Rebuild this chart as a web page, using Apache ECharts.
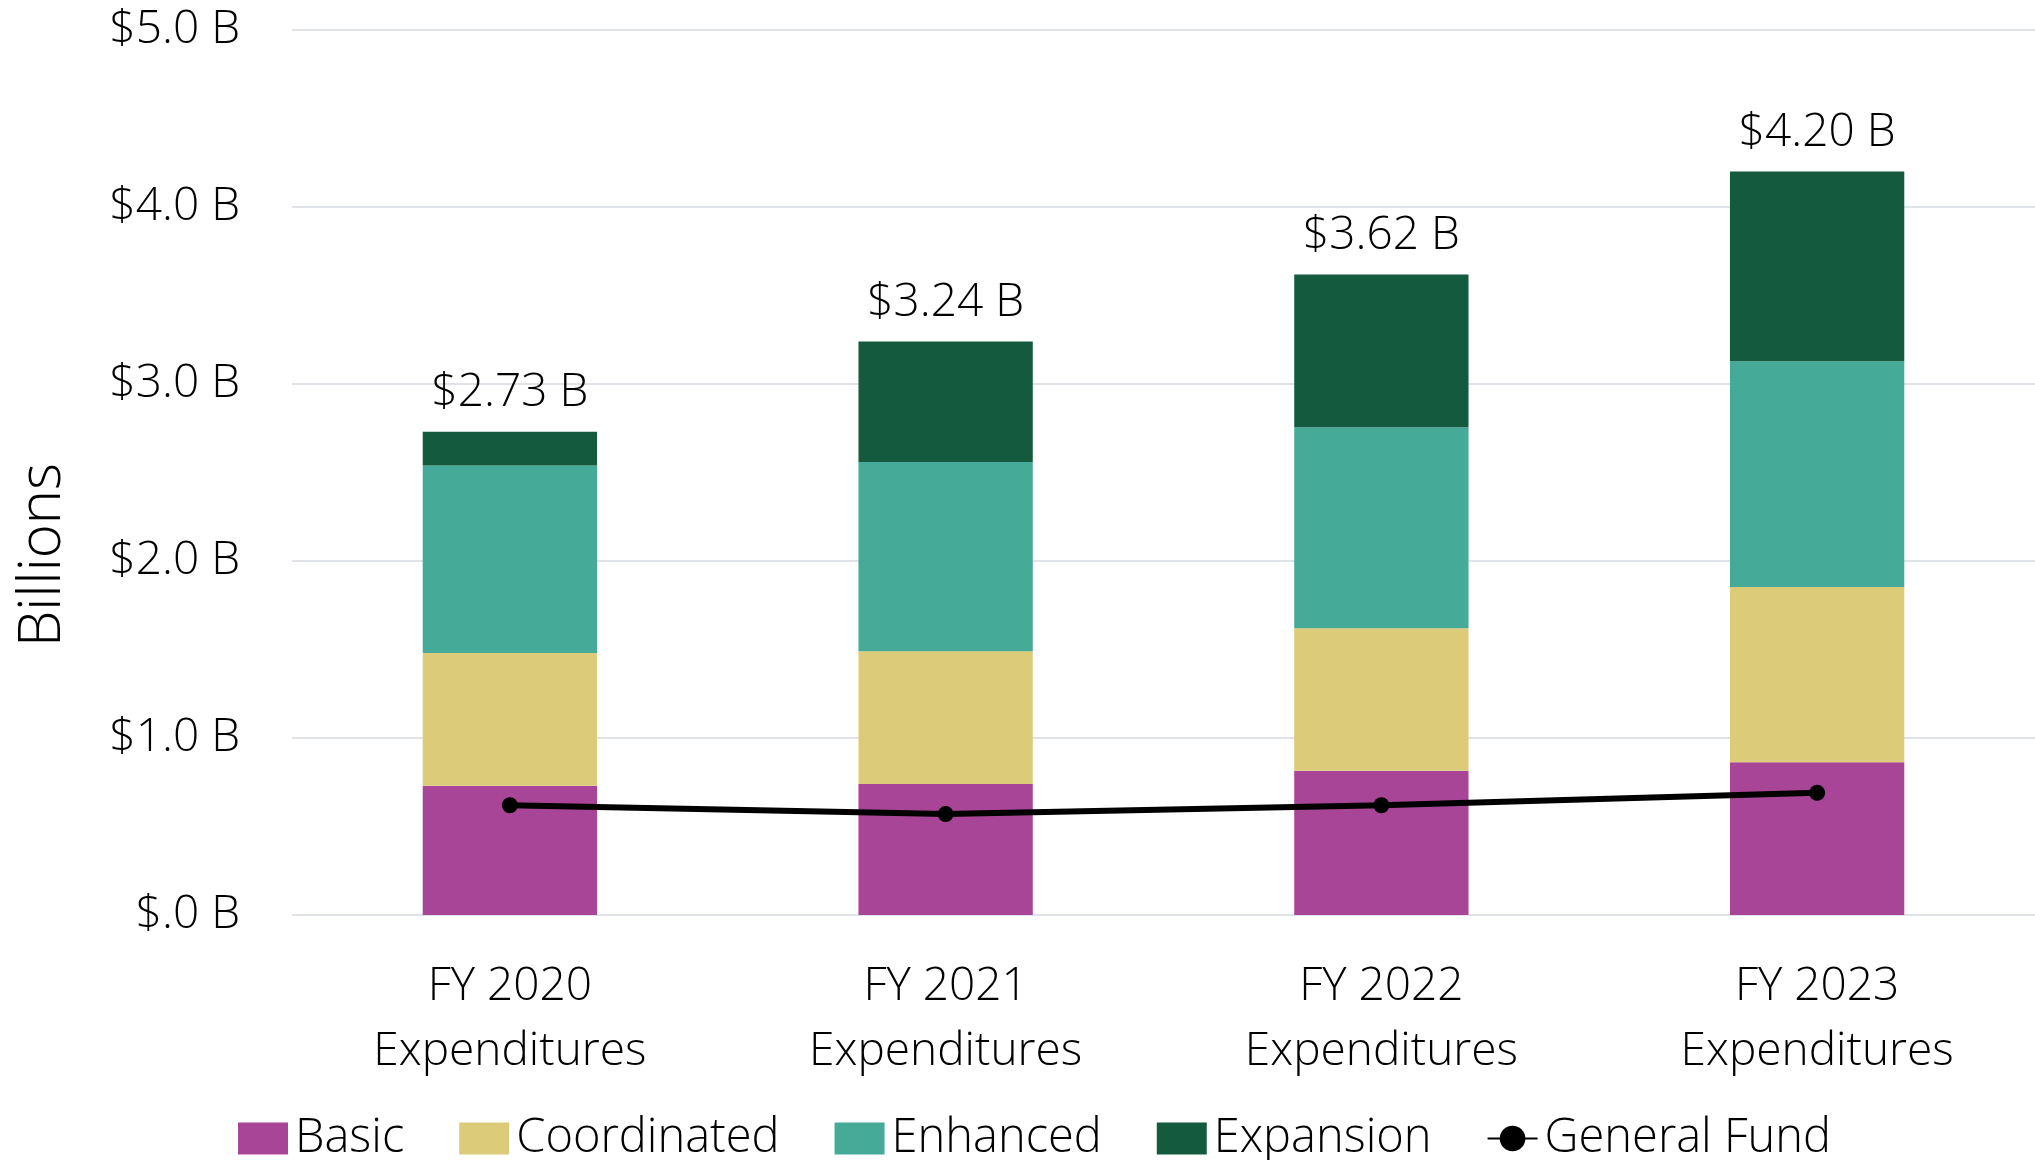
<!DOCTYPE html>
<html>
<head>
<meta charset="utf-8">
<script src="https://cdn.jsdelivr.net/npm/echarts@6/dist/echarts.min.js"></script>
<style>
html,body{margin:0;padding:0;background:#fff;}
#chart{width:2035px;height:1160px;}
</style>
</head>
<body>
<div id="chart"></div>
<script>
const categories = ['FY 2020\nExpenditures', 'FY 2021\nExpenditures', 'FY 2022\nExpenditures', 'FY 2023\nExpenditures'];
const basic = [0.73, 0.74, 0.815, 0.863];
const coordinated = [0.75, 0.75, 0.805, 0.99];
const enhanced = [1.06, 1.07, 1.135, 1.276];
const expansion = [0.19, 0.68, 0.863, 1.071];
const generalFund = [0.62, 0.57, 0.62, 0.69];
const yTicks = [0, 1, 2, 3, 4, 5];

const totals = categories.map((c, i) => basic[i] + coordinated[i] + enhanced[i] + expansion[i]);

const FONT = 'Open Sans';
const FS = 46;
const chart = echarts.init(document.getElementById('chart'));
chart.setOption({
  animation: false,
  backgroundColor: '#fff',
  textStyle: { fontFamily: FONT, fontWeight: 300, color: '#000' },
  grid: { left: 292, width: 1749, top: 30, bottom: 245, containLabel: false },
  graphic: [{
    type: 'text',
    x: 43, y: 555,
    rotation: Math.PI / 2,
    style: { text: 'Billions', fontFamily: FONT, fontWeight: 300, fontSize: 58, fill: '#000', textAlign: 'center', textVerticalAlign: 'middle' }
  }],
  legend: {
    left: 233, top: 1110,
    itemWidth: 50, itemHeight: 32, itemGap: 55,
    textStyle: { fontFamily: FONT, fontWeight: 300, fontSize: 47, color: '#000', padding: [0, 0, 0, 2] },
    data: [
      { name: 'Basic', icon: 'rect' },
      { name: 'Coordinated', icon: 'rect' },
      { name: 'Enhanced', icon: 'rect' },
      { name: 'Expansion', icon: 'rect' },
      { name: 'General Fund' }
    ]
  },
  xAxis: {
    type: 'category',
    data: categories,
    axisLine: { show: false },
    axisTick: { show: false },
    axisLabel: { fontFamily: FONT, fontWeight: 300, fontSize: FS, color: '#000', lineHeight: 65, margin: 39 }
  },
  yAxis: {
    type: 'value',
    min: yTicks[0], max: yTicks[yTicks.length - 1], interval: 1,
    axisLine: { show: false },
    axisTick: { show: false },
    splitLine: { lineStyle: { color: '#dfe3e7', width: 2 } },
    axisLabel: {
      fontFamily: FONT, fontWeight: 300, fontSize: FS, color: '#000', margin: 52,
      formatter: v => '$' + v.toFixed(1).replace(/^0/, '') + ' B'
    }
  },
  series: [
    { name: 'Basic', type: 'bar', stack: 'a', barWidth: '40%', data: basic, itemStyle: { color: '#A84596' } },
    { name: 'Coordinated', type: 'bar', stack: 'a', data: coordinated, itemStyle: { color: '#DCCB78' } },
    { name: 'Enhanced', type: 'bar', stack: 'a', data: enhanced, itemStyle: { color: '#46AA99' } },
    { name: 'Expansion', type: 'bar', stack: 'a', data: expansion, itemStyle: { color: '#145A3E' },
      label: { show: true, position: 'top', distance: 16, fontFamily: FONT, fontWeight: 300, fontSize: FS, color: '#000', lineHeight: 46,
        formatter: p => '$' + totals[p.dataIndex].toFixed(2) + ' B' } },
    { name: 'General Fund', type: 'line', data: generalFund, symbol: 'circle', symbolSize: 16,
      lineStyle: { color: '#000', width: 6 }, itemStyle: { color: '#000' }, z: 10 }
  ]
});
</script>
</body>
</html>
